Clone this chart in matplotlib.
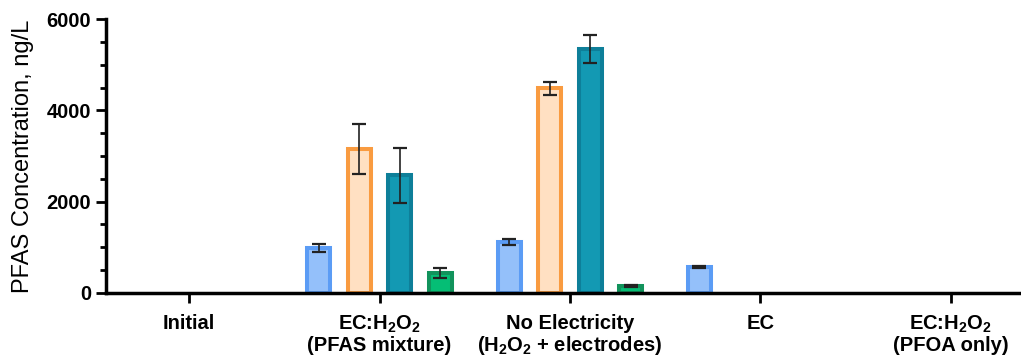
import numpy as np
import matplotlib
matplotlib.use("Agg")
import matplotlib.pyplot as plt
from matplotlib.ticker import MultipleLocator

plt.rcParams['font.family'] = 'Liberation Sans'
plt.rcParams['mathtext.fontset'] = 'custom'
plt.rcParams['mathtext.rm'] = 'Liberation Sans:bold'
plt.rcParams['mathtext.default'] = 'rm'

categories = ["Initial",
              "EC:H$_2$O$_2$\n(PFAS mixture)",
              "No Electricity\n(H$_2$O$_2$ + electrodes)",
              "EC",
              "EC:H$_2$O$_2$\n(PFOA only)"]

# four series per group (nan = no bar)
s1 = [np.nan, 990, 1110, 570, np.nan]
s1_err = [0, 90, 70, 20, 0]
s2 = [np.nan, 3150, 4480, np.nan, np.nan]
s2_err = [0, 550, 140, 0, 0]
s3 = [np.nan, 2580, 5340, np.nan, np.nan]
s3_err = [0, 600, 300, 0, 0]
s4 = [np.nan, 440, 150, np.nan, np.nan]
s4_err = [0, 110, 20, 0, 0]

series = [(s1, s1_err, '#94C0FA', '#5B9CF5'),
          (s2, s2_err, '#FFE0C2', '#F99B40'),
          (s3, s3_err, '#1399B3', '#0E7F99'),
          (s4, s4_err, '#05BE75', '#12935C')]

fig = plt.figure(figsize=(10.21, 3.56), dpi=100)
ax = fig.add_axes([0.1038, 0.177, 0.8962, 0.7696])

x = np.arange(len(categories))
step = 0.213
width = 0.121
for i, (vals, err, fc, ec) in enumerate(series):
    pos = x + (i - 1.5) * step
    ax.bar(pos, vals, width, color=fc, edgecolor=ec, linewidth=2.9, zorder=2)
    v = np.array(vals, dtype=float)
    m = ~np.isnan(v)
    ax.errorbar(pos[m], v[m], yerr=np.array(err)[m], fmt='none', ecolor='#222222',
                elinewidth=1.2, capsize=4.7, capthick=1.6, zorder=3)

ax.set_ylim(0, 6000)
ax.set_xlim(-0.437, 4.37)
ax.yaxis.set_major_locator(MultipleLocator(2000))
ax.yaxis.set_minor_locator(MultipleLocator(500))
ax.set_xticks(x)
ax.set_xticklabels(categories, fontsize=14.5, fontweight='bold', linespacing=1.05)
for lab in ax.get_yticklabels():
    lab.set_fontweight('bold')
ax.tick_params(axis='y', labelsize=14.5, width=2, length=7.5, pad=3.2)
ax.tick_params(axis='y', which='minor', width=2, length=4.5)
ax.tick_params(axis='x', width=2, length=7, pad=8)
ax.set_ylabel("PFAS Concentration, ng/L", fontsize=17)
ax.yaxis.set_label_coords(-0.079, 0.5)

for side in ['top', 'right']:
    ax.spines[side].set_visible(False)
for side in ['left', 'bottom']:
    ax.spines[side].set_linewidth(2.5)

fig.savefig("out.png", dpi=100)
